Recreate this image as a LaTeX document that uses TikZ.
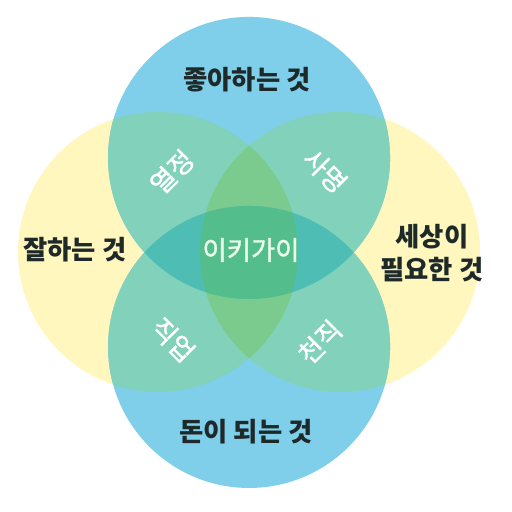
\documentclass[tikz,border=0pt]{standalone}
\usepackage{fontspec}
\setmainfont{Noto Sans CJK KR}
\newfontfamily\krsemi[FakeBold=1.3]{Noto Sans CJK KR}
\usetikzlibrary{positioning}

\definecolor{skyblue}{HTML}{7FCFEA}
\definecolor{paleyellow}{HTML}{FFF7BE}
\definecolor{mintlap}{HTML}{82D1BB}
\definecolor{leaflap}{HTML}{7ACB8D}
\definecolor{tealap}{HTML}{4EBEB5}
\definecolor{corelap}{HTML}{53BE8C}
\definecolor{inkdark}{HTML}{1E2A2A}

\tikzset{
  bluering/.style={fill=skyblue},
  yellowring/.style={fill=paleyellow},
  outerlbl/.style={
    font=\fontsize{15}{19}\selectfont\bfseries, text=inkdark,
    align=center, inner sep=1pt,
  },
  innerlbl/.style={
    font=\fontsize{15}{17}\selectfont\krsemi, text=white,
    inner sep=0pt,
  },
  corelbl/.style={
    font=\fontsize{15}{17}\selectfont\krsemi, text=white!92!green,
    inner sep=1pt,
  }
}

\begin{document}
\begin{tikzpicture}[scale=0.02]

  \fill[white] (0,0) rectangle (512,512);
  \useasboundingbox (0,0) rectangle (512,512);

  % circle centres
  \coordinate (ctop)   at (249,354);
  \coordinate (cbot)   at (249,165);
  \coordinate (cleft)  at (158,260);
  \coordinate (cright) at (340,260);

  % the four circles
  \fill[yellowring] (cleft)  circle (140);
  \fill[yellowring] (cright) circle (140);
  \fill[bluering]   (ctop)   circle (141);
  \fill[bluering]   (cbot)   circle (141);

  % blue over yellow
  \begin{scope}
    \clip (ctop) circle (141);
    \fill[mintlap] (cleft) circle (140);
    \fill[mintlap] (cright) circle (140);
  \end{scope}
  \begin{scope}
    \clip (cbot) circle (141);
    \fill[mintlap] (cleft) circle (140);
    \fill[mintlap] (cright) circle (140);
  \end{scope}

  % yellow over yellow
  \begin{scope}
    \clip (cleft) circle (140);
    \fill[leaflap] (cright) circle (140);
  \end{scope}

  % blue over blue
  \begin{scope}
    \clip (ctop) circle (141);
    \fill[tealap] (cbot) circle (141);
  \end{scope}

  % all four
  \begin{scope}
    \clip (ctop) circle (141);
    \clip (cbot) circle (141);
    \clip (cleft) circle (140);
    \fill[corelap] (cright) circle (140);
  \end{scope}

  % outer labels
  \node[outerlbl] (love)  at (247,432) {좋아하는 것};
  \node[outerlbl] (good)  at (75,262)  {잘하는 것};
  \node[outerlbl] (need)  at (432,259) {세상이\\필요한 것};
  \node[outerlbl] (paid)  at (246,80)  {돈이 되는 것};

  % overlap labels
  \node[innerlbl, rotate=45]  (passion)  at (172,340) {열정};
  \node[innerlbl, rotate=-45] (mission)  at (325,341) {사명};
  \node[innerlbl, rotate=-45] (job)      at (173,172) {직업};
  \node[innerlbl, rotate=45]  (vocation) at (320,170) {천직};
  \node[corelbl] (ikigai) at (251,262) {이키가이};

\end{tikzpicture}
\end{document}
